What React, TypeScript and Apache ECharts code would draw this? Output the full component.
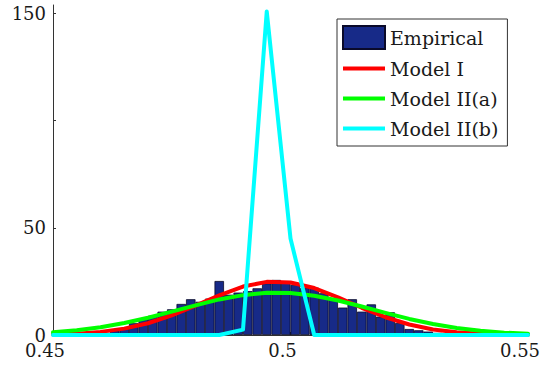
import React, { useEffect, useRef } from "react";
import * as echarts from "echarts";

// Histogram bin centres (bin width 0.002) and empirical density
const binCenters = [
  0.451, 0.453, 0.455, 0.457, 0.459, 0.461, 0.463, 0.465, 0.467, 0.469,
  0.471, 0.473, 0.475, 0.477, 0.479, 0.481, 0.483, 0.485, 0.487, 0.489,
  0.491, 0.493, 0.495, 0.497, 0.499, 0.501, 0.503, 0.505, 0.507, 0.509,
  0.511, 0.513, 0.515, 0.517, 0.519, 0.521, 0.523, 0.525, 0.527, 0.529,
  0.531, 0.533, 0.535, 0.537, 0.539, 0.541, 0.543, 0.545, 0.547, 0.549,
];
const empirical = [
  0, 0, 0.1, 0.3, 0.5, 1.0, 2.0, 3.2, 5.5, 7.5,
  9.0, 10.9, 12.0, 14.5, 16.7, 15.5, 17.0, 25.2, 18.8, 19.8,
  20.5, 21.8, 24.1, 25.7, 24.5, 23.4, 22.0, 22.1, 19.5, 17.0,
  12.8, 16.7, 10.9, 14.3, 8.6, 10.6, 5.6, 2.8, 2.2, 1.6,
  1.0, 0.6, 0.3, 0, 0, 0, 0, 0, 0, 0,
];

// Model curves evaluated on a 0.005 grid
const gridX = [
  0.45, 0.455, 0.46, 0.465, 0.47, 0.475, 0.48, 0.485, 0.49, 0.495, 0.5,
  0.505, 0.51, 0.515, 0.52, 0.525, 0.53, 0.535, 0.54, 0.545, 0.55,
];
const modelI = [
  0.25, 0.64, 1.45, 2.97, 5.49, 9.14, 13.7, 18.5, 22.6, 24.8, 24.5,
  21.9, 17.6, 12.7, 8.3, 4.9, 2.6, 1.25, 0.54, 0.2, 0.07,
];
const modelIIa = [
  1.29, 2.23, 3.64, 5.58, 8.03, 10.9, 13.8, 16.6, 18.6, 19.7, 19.6,
  18.3, 16.1, 13.3, 10.3, 7.5, 5.1, 3.3, 2.0, 1.1, 0.6,
];
const modelIIb = [
  0, 0, 0, 0, 0, 0, 0, 0, 2.5, 151, 45,
  0, 0, 0, 0, 0, 0, 0, 0, 0, 0,
];

const yTickValues = [0, 50, 100, 150];
const yLabelValues = [0, 50, 150];

const FONT = "DejaVu Serif";
const LINE_ICON = "path://M0,0 L42,0 L42,4 L0,4 Z";

export default function App() {
  const ref = useRef<HTMLDivElement>(null);
  useEffect(() => {
    const chart = echarts.init(ref.current!, null, { renderer: "svg" });
    const pair = (xs: number[], ys: number[]) => xs.map((x, i) => [x, ys[i]]);
    chart.setOption({
      animation: false,
      backgroundColor: "#ffffff",
      grid: { left: 53, right: 25, top: 5, bottom: 32, containLabel: false },
      xAxis: {
        type: "value",
        min: 0.45,
        max: 0.55,
        interval: 0.05,
        splitLine: { show: false },
        axisLine: { show: true, lineStyle: { color: "#333", width: 1 } },
        axisTick: { show: true, inside: true, length: 3, lineStyle: { color: "#333" } },
        axisLabel: {
          color: "#1a1a1a",
          fontFamily: FONT,
          fontSize: 18,
          margin: 6,
          padding: [0, 16, 0, 0],
          formatter: (v: number) => String(+v.toFixed(2)),
        },
      },
      yAxis: {
        type: "value",
        min: 0,
        max: 154,
        interval: 50,
        splitLine: { show: false },
        axisLine: { show: true, lineStyle: { color: "#333", width: 1 } },
        axisTick: {
          show: true,
          inside: true,
          length: 3,
          customValues: yTickValues,
          lineStyle: { color: "#333" },
        },
        axisLabel: {
          color: "#1a1a1a",
          fontFamily: FONT,
          fontSize: 18,
          margin: 7,
          customValues: yLabelValues,
        },
      },
      legend: {
        orient: "vertical",
        left: 337,
        top: 19,
        backgroundColor: "#ffffff",
        borderColor: "#333",
        borderWidth: 1,
        borderRadius: 0,
        padding: [6, 9, 6, 5],
        itemWidth: 42,
        itemHeight: 23,
        itemGap: 7,
        textStyle: { fontFamily: FONT, fontSize: 19, color: "#1a1a1a", lineHeight: 23 },
        data: [
          { name: "Empirical", icon: "rect" },
          { name: "Model I", icon: LINE_ICON },
          { name: "Model II(a)", icon: LINE_ICON },
          { name: "Model II(b)", icon: LINE_ICON },
        ],
      },
      series: [
        {
          name: "Empirical",
          type: "bar",
          data: pair(binCenters, empirical),
          barWidth: 9.5,
          itemStyle: { color: "#172a88", borderColor: "#0a0a2a", borderWidth: 0.8 },
        },
        {
          name: "Model I",
          type: "line",
          data: pair(gridX, modelI),
          symbol: "none",
          clip: false,
          color: "#ff0000",
          lineStyle: { color: "#ff0000", width: 4, join: "round", cap: "round" },
        },
        {
          name: "Model II(a)",
          type: "line",
          data: pair(gridX, modelIIa),
          symbol: "none",
          clip: false,
          color: "#00ff00",
          lineStyle: { color: "#00ff00", width: 4, join: "round", cap: "round" },
        },
        {
          name: "Model II(b)",
          type: "line",
          data: pair(gridX, modelIIb),
          symbol: "none",
          clip: false,
          color: "#00ffff",
          lineStyle: { color: "#00ffff", width: 4, join: "round", cap: "round" },
        },
      ],
    });
    return () => chart.dispose();
  }, []);
  return (
    <div
      ref={ref}
      style={{ position: "fixed", left: 0, top: 0, width: 553, height: 367 }}
    />
  );
}
